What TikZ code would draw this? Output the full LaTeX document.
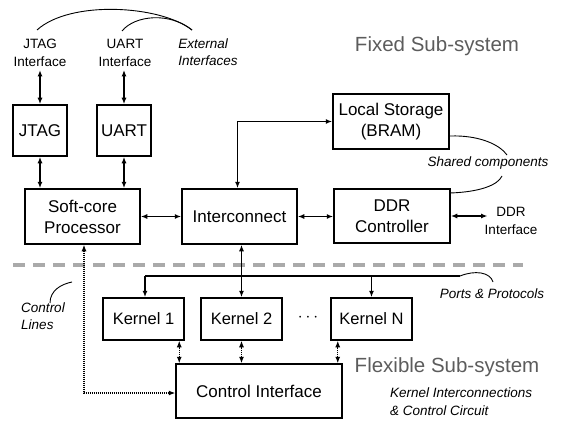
\documentclass[tikz,border=0pt]{standalone}
\usepackage{fontspec}
\setmainfont{Liberation Sans}
\usetikzlibrary{arrows.meta}
\definecolor{titlegray}{RGB}{92,92,92}
\definecolor{sepgray}{RGB}{170,170,170}
\begin{document}
\begin{tikzpicture}[x=1pt,y=-1pt,
  box/.style={draw,line width=1.5pt,inner sep=0pt,align=center,
    font=\fontsize{17}{21}\selectfont},
  kbox/.style={box,minimum width=81pt,minimum height=42pt,
    font=\fontsize{16.5}{20}\selectfont},
  small/.style={align=center,inner sep=0pt,font=\fontsize{13.5}{18}\selectfont},
  note/.style={align=left,inner sep=0pt,font=\fontsize{13.5}{17.5}\selectfont\itshape},
  title/.style={inner sep=0pt,text=titlegray,font=\fontsize{20.5}{24}\selectfont},
  link/.style={line width=1.3pt},
  both/.style={link,{Latex[length=6.5pt,width=5pt]}-{Latex[length=6.5pt,width=5pt]}},
  fwd/.style={link,-{Latex[length=6.5pt,width=5pt]}},
  ctl/.style={both,line width=1.1pt,dash pattern=on 1pt off 1pt},
  callout/.style={line width=0.9pt},
]
\useasboundingbox (0,0) rectangle (561,422);

% ---- fixed sub-system ----
\node[title] (fixed) at (437,46) {Fixed Sub-system};

\node[small] (jtagif) at (40,53) {JTAG\\Interface};
\node[small] (uartif) at (125,53) {UART\\Interface};
\node[note] (ext) at (208,52) {External\\Interfaces};

\node[box,minimum width=54pt,minimum height=51pt] (jtag) at (40,130.5) {JTAG};
\node[box,minimum width=54pt,minimum height=51pt] (uart) at (124,130.5) {UART};

\node[box,minimum width=115pt,minimum height=55pt] (cpu) at (82.5,216.5) {Soft-core\\Processor};
\node[box,minimum width=115pt,minimum height=55pt] (ic) at (239.5,216.5) {Interconnect};
\node[box,minimum width=116pt,minimum height=55pt] (bram) at (391,121.5) {Local Storage\\(BRAM)};
\node[box,minimum width=116pt,minimum height=54pt] (ddr) at (392,216) {DDR\\Controller};
\node[small] (ddrif) at (511,221) {DDR\\Interface};
\node[note] (shared) at (488,163) {Shared components};

% external interfaces
\draw[both] ([yshift=-3pt]jtagif.south) -- (jtag.north);
\draw[both] ([yshift=-3pt]uartif.south -| uart.north) -- (uart.north);
\draw[both] (jtag.south) -- (jtag.south |- cpu.north);
\draw[both] (uart.south) -- (uart.south |- cpu.north);

% system bus
\draw[both] (cpu.east) -- (ic.west);
\draw[both] (ic.east) -- (ddr.west |- ic.east);
\draw[both] (ddr.east) -- ([xshift=3pt]ddrif.west |- ddr.east);
\draw[both] (bram.west) -| ([xshift=-2pt]ic.north);

% callout curves
\coordinate (extA) at (37,30);
\coordinate (extB) at (122,31);
\coordinate (extC) at (192,30);
\draw[callout] (extA) .. controls (70,0) and (160,5) .. (extC);
\draw[callout] (extB) .. controls (135,15) and (170,12) .. (extC);
\coordinate (shA) at (450,136);
\coordinate (shB) at (507,155);
\coordinate (shC) at (450,193);
\coordinate (shD) at (502,176);
\draw[callout] (shA) .. controls (480,135) and (500,145) .. (shB);
\draw[callout] (shC) .. controls (480,192) and (498,185) .. (shD);

% ---- separator ----
\coordinate (sepL) at (13,265);
\coordinate (sepR) at (523,265);
\draw[sepgray,line width=3.5pt,dash pattern=on 12pt off 8pt] (sepL) -- (sepR);

% ---- flexible sub-system ----
\node[title] (flex) at (447,367) {Flexible Sub-system};

\node[kbox] (k1) at (143.5,319) {Kernel 1};
\node[kbox] (k2) at (241.5,319) {Kernel 2};
\node[kbox] (kn) at (371.5,319) {Kernel N};
\node[inner sep=0pt,font=\fontsize{17}{20}\selectfont] (dots) at (308,318) {$\cdots$};

\node[box,minimum width=166pt,minimum height=54pt] (ci) at (259,391) {Control Interface};

\node[note] (ports) at (492,294) {Ports \& Protocols};
\node[note] (lines) at (43,316) {Control\\Lines};
\node[note,anchor=west] (kic) at (390,401.5) {Kernel Interconnections\\\& Control Circuit};

% kernel ports
\coordinate (busL) at (145,276);
\coordinate (busR) at (460,276);
\draw[link] (busL) -- (busR);
\draw[fwd] (busL) -- (busL |- k1.north);
\draw[fwd] (kn.north |- busL) -- (kn.north);
\draw[both] (k2.north |- ic.south) -- (k2.north);
\draw[callout] (busR) .. controls (475,270) and (490,272) .. (493,282);

% control lines
\draw[ctl] ([xshift=4pt]ci.north west) -- ([xshift=4pt]ci.north west |- k1.south);
\draw[ctl] (ci.north -| k2.south) -- (k2.south);
\draw[ctl] ([xshift=-5pt]ci.north east) -- ([xshift=-5pt]ci.north east |- kn.south);
\draw[ctl] ([xshift=1.5pt]cpu.south) |- ([yshift=-2pt]ci.west);
\coordinate (clA) at (50,303);
\coordinate (clB) at (72,282);
\draw[callout] (clA) .. controls (50,290) and (62,284) .. (clB);
\end{tikzpicture}
\end{document}
